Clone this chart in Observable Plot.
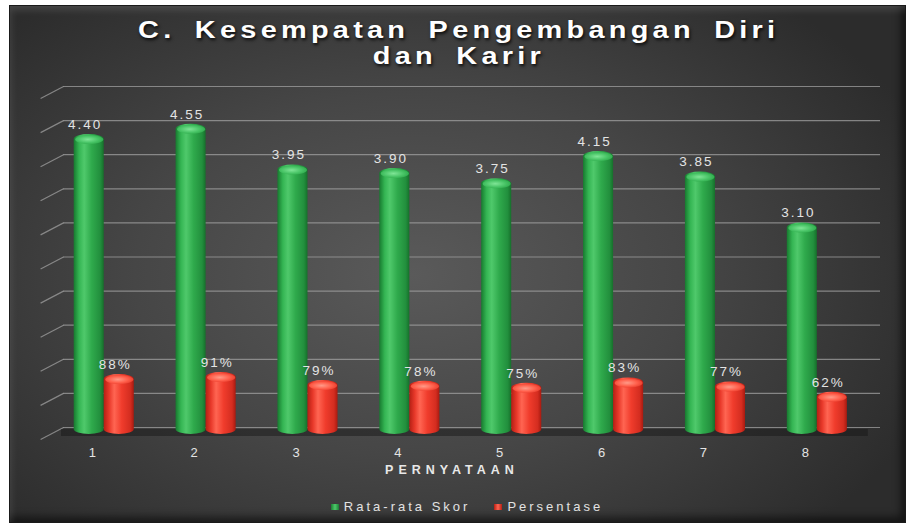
<!DOCTYPE html>
<html><head><meta charset="utf-8">
<script src="https://cdn.jsdelivr.net/npm/d3@7"></script>
<script src="https://cdn.jsdelivr.net/npm/@observablehq/plot@0.6"></script>
<style>
html,body{margin:0;padding:0;background:#fff;width:906px;height:525px;overflow:hidden;font-family:"Liberation Sans",Arial,sans-serif;}
#panel{position:absolute;left:9px;top:5px;width:897px;height:518px;
 background:radial-gradient(ellipse 62% 70% at 45% 52%, #5a5a5a 0%, #464646 50%, #2c2c2c 100%);
 box-shadow:inset 0 0 0 1px #1a1a1a, inset 4px 7px 7px -2px rgba(255,255,255,0.13), inset -5px -6px 8px rgba(0,0,0,0.55);}
.tline{position:absolute;left:0;width:906px;height:22px;line-height:22px;text-align:center;color:#fff;font-weight:bold;font-size:24.5px;letter-spacing:3.6px;word-spacing:6px;text-shadow:1px 2px 3px rgba(0,0,0,.85);white-space:nowrap;}
.tline span{display:inline-block;transform:scaleX(1.18);transform-origin:center;}
#chart{position:absolute;left:0;top:70px;}
#legend{position:absolute;left:14px;top:499px;width:906px;display:flex;justify-content:center;align-items:center;color:#e2e2e2;font-size:13px;letter-spacing:3px;}
#legend .item{display:flex;align-items:center;margin:0 12px;}
#legend .sw{width:8px;height:6px;margin-right:5px;}
</style></head>
<body>
<div id="panel"></div>
<div id="title"></div>
<div id="chart"></div>
<div id="legend"></div>
<script>
const titleLines = ["C. Kesempatan Pengembangan Diri", "dan Karir"];
const statements = [1, 2, 3, 4, 5, 6, 7, 8];
const avgScore = [4.40, 4.55, 3.95, 3.90, 3.75, 4.15, 3.85, 3.10];
const percent = [88, 91, 79, 78, 75, 83, 77, 62];
const seriesNames = ["Rata-rata Skor", "Persentase"];
const gridTicks = [0, 0.5, 1, 1.5, 2, 2.5, 3, 3.5, 4, 4.5, 5];
const xLabel = "PERNYATAAN";

const titleEl = document.getElementById("title");
titleLines.forEach((t, i) => {
  const d = document.createElement("div");
  d.className = "tline";
  d.style.top = (19 + i * 26) + "px";
  d.style.left = "6px";
  const s = document.createElement("span");
  s.textContent = t;
  d.appendChild(s);
  titleEl.appendChild(d);
});

const W = 0.295; // bar width in x units
const bars = statements.flatMap((s, i) => [
  {s, series: seriesNames[0], v: avgScore[i], label: avgScore[i].toFixed(2), x1: s - W, x2: s, c: s - W / 2},
  {s, series: seriesNames[1], v: percent[i] / 100, label: percent[i] + "%", x1: s, x2: s + W, c: s + W / 2}
]);

const ellipse = {draw(ctx) {
  const rx = 14, ry = 4.5, k = 0.5523;
  ctx.moveTo(-rx, 0);
  ctx.bezierCurveTo(-rx, -ry * k, -rx * k, -ry, 0, -ry);
  ctx.bezierCurveTo(rx * k, -ry, rx, -ry * k, rx, 0);
  ctx.bezierCurveTo(rx, ry * k, rx * k, ry, 0, ry);
  ctx.bezierCurveTo(-rx * k, ry, -rx, ry * k, -rx, 0);
  ctx.closePath();
}};

const fillBar = d => d.series === seriesNames[0] ? "url(#gGreen)" : "url(#gRed)";

const chart = Plot.plot({
  width: 906, height: 410,
  marginTop: 23, marginBottom: 46, marginLeft: 63, marginRight: 26,
  style: {background: "transparent", fontFamily: "Liberation Sans, Arial, sans-serif"},
  x: {type: "linear", domain: [0.6, 8.62], axis: null},
  y: {domain: [0, 5], axis: null},
  marks: [
    Plot.ruleY(gridTicks, {stroke: "#a0a0a0", strokeOpacity: 0.75, strokeWidth: 1.2, dy: -7}),
    Plot.link(gridTicks, {x1: 0.375, x2: 0.6, y1: t => t - 0.176, y2: t => t, stroke: "#a0a0a0", strokeOpacity: 0.75, strokeWidth: 1.2, dy: -7}),
    Plot.ruleY([0], {x1: 0.58, x2: 8.5, stroke: "#141414", strokeWidth: 7, strokeOpacity: 0.45, dy: -2}),
    Plot.rect(bars, {x1: "x1", x2: "x2", y1: 0, y2: "v", fill: fillBar, rx: 15, ry: 5}),
    Plot.dot(bars, {x: "c", y: "v", symbol: ellipse, r: 3, fill: d => d.series === seriesNames[0] ? "url(#capGreen)" : "url(#capRed)", stroke: "none", dy: 5}),
    Plot.text(bars, {x: "c", y: "v", text: "label", dy: -10, dx: -4, fill: "#e4e4e4", fontSize: 13.5}),
    Plot.text(statements, {x: d => d, y: 0, text: d => String(d), dy: 18, dx: -11, fill: "#e4e4e4", fontSize: 13}),
    Plot.text([xLabel], {frameAnchor: "bottom", text: d => d, dx: -20, dy: 39, fill: "#e8e8e8", fontSize: 12.5, fontWeight: "bold"})
  ]
});

const svg = d3.select(chart);
const defs = svg.insert("defs", ":first-child");
function lin(id, stops) {
  const g = defs.append("linearGradient").attr("id", id).attr("x1", 0).attr("x2", 1).attr("y1", 0).attr("y2", 0);
  stops.forEach(([o, c]) => g.append("stop").attr("offset", o).attr("stop-color", c));
}
function rad(id, stops) {
  const g = defs.append("radialGradient").attr("id", id).attr("cx", 0.45).attr("cy", 0.5).attr("r", 0.6);
  stops.forEach(([o, c]) => g.append("stop").attr("offset", o).attr("stop-color", c));
}
lin("gGreen", [[0, "#177a2f"], [0.18, "#34b553"], [0.35, "#4fc96b"], [0.6, "#2faa4c"], [0.88, "#228f3d"], [1, "#16702b"]]);
lin("gRed", [[0, "#b51f14"], [0.18, "#e8392a"], [0.35, "#ff6552"], [0.6, "#f03c2c"], [0.88, "#d42d20"], [1, "#a81a10"]]);
rad("capGreen", [[0, "#7fe596"], [0.6, "#48c466"], [1, "#2da84a"]]);
rad("capRed", [[0, "#ff9a88"], [0.6, "#ff5e4a"], [1, "#e53a2b"]]);

svg.selectAll('g[aria-label="text"] text').style("letter-spacing", "2px");
svg.selectAll('g[aria-label="text"]').filter((d, i, n) => i === 2).selectAll("text").style("letter-spacing", "5px");

document.getElementById("chart").appendChild(chart);

const legend = document.getElementById("legend");
const swatch = ["linear-gradient(90deg,#1b7f33,#4fc96b,#1b7f33)", "linear-gradient(90deg,#b51f14,#ff6552,#b51f14)"];
seriesNames.forEach((n, i) => {
  const it = document.createElement("div"); it.className = "item";
  const sw = document.createElement("div"); sw.className = "sw"; sw.style.background = swatch[i];
  const t = document.createElement("span"); t.textContent = n;
  it.appendChild(sw); it.appendChild(t); legend.appendChild(it);
});
</script>
</body></html>
